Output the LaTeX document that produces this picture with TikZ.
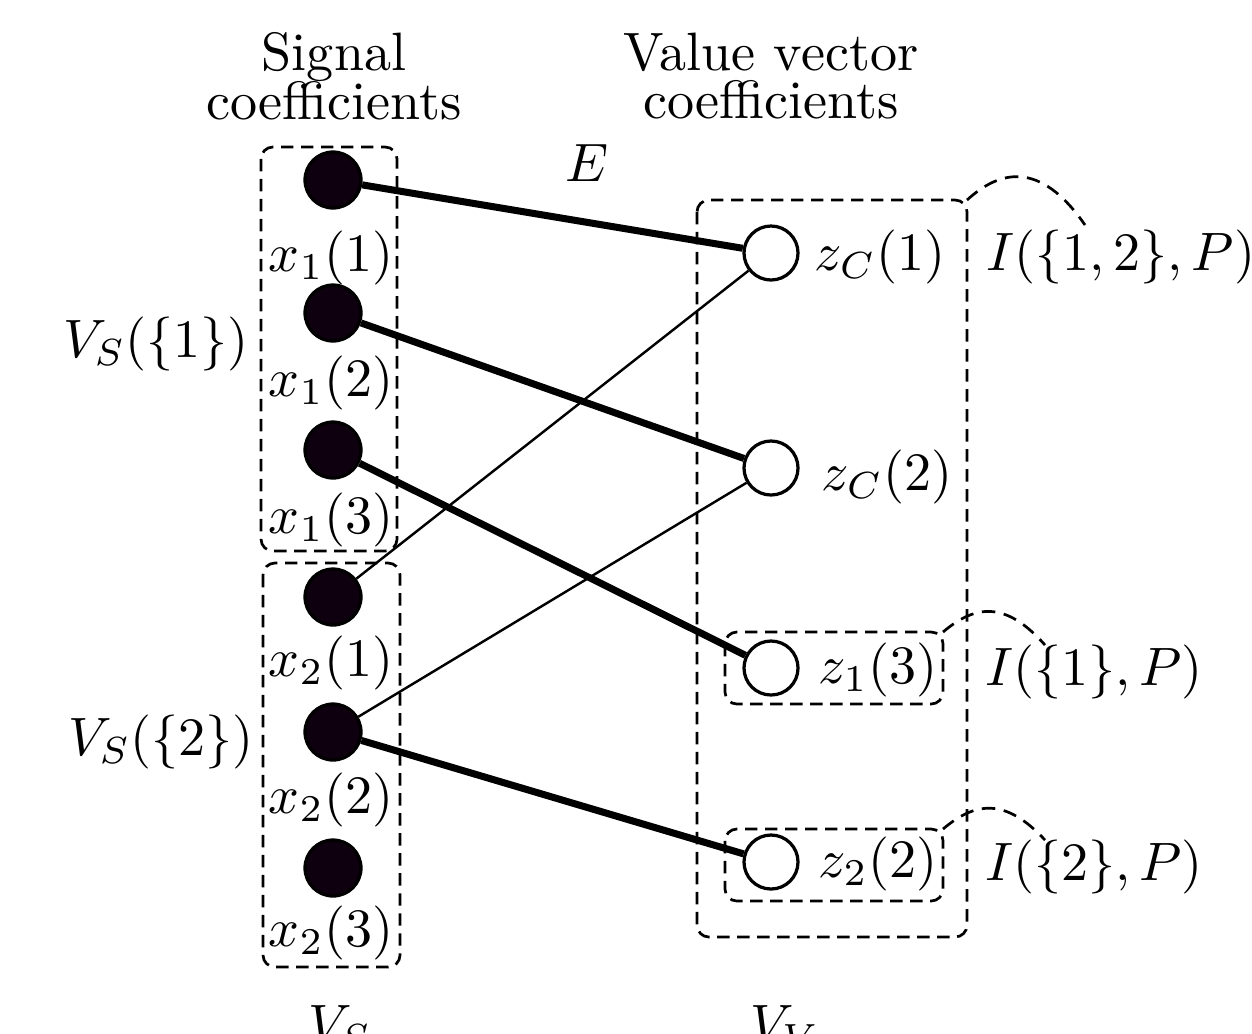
\documentclass[tikz,border=0pt]{standalone}
\usetikzlibrary{positioning}
\definecolor{nodefill}{rgb}{0.06,0.0,0.06}
\begin{document}
\begin{tikzpicture}[x=0.185pt,y=-0.185pt,
  sig/.style={circle,draw=black,line width=0.6pt,fill=nodefill,minimum size=56*0.185pt,inner sep=0pt},
  val/.style={circle,draw=black,line width=0.6pt,fill=white,minimum size=54*0.185pt,inner sep=0pt},
  thickedge/.style={line width=1.3pt},
  thinedge/.style={line width=0.45pt},
  dbox/.style={draw=black,dash pattern=on 2.3pt off 1.4pt,line width=0.5pt,rounded corners=2.2pt},
  dcurve/.style={draw=black,dash pattern=on 2.5pt off 1.6pt,line width=0.5pt},
  lab/.style={inner sep=0pt}]
\useasboundingbox (0,0) rectangle (1252,1033);
% group boxes
\draw[dbox] (261,147) rectangle (397,551);
\draw[dbox] (263,563) rectangle (400,967);
\draw[dbox] (697,200) rectangle (967,937);
\draw[dbox] (725,632) rectangle (943,704);
\draw[dbox] (725,829) rectangle (943,901);
\coordinate (bigc) at (967,200);
\coordinate (onec) at (943,632);
\coordinate (twoc) at (943,829);
% signal nodes
\node[sig] (x11) at (333,180) {};
\node[sig] (x12) at (333,313) {};
\node[sig] (x13) at (333,450) {};
\node[sig] (x21) at (333,597) {};
\node[sig] (x22) at (333,732) {};
\node[sig] (x23) at (333,868) {};
% value nodes
\node[val] (zc1) at (771,253) {};
\node[val] (zc2) at (771,468) {};
\node[val] (z13) at (771,668) {};
\node[val] (z22) at (771,862) {};
% labels
\node[lab] (lx11) at (331,258) {$x_1(1)$};
\node[lab] (lx12) at (331,383) {$x_1(2)$};
\node[lab] (lx13) at (331,520) {$x_1(3)$};
\node[lab] (lx21) at (331,663) {$x_2(1)$};
\node[lab] (lx22) at (331,800) {$x_2(2)$};
\node[lab] (lx23) at (331,933) {$x_2(3)$};
\node[lab] (lzc1) at (880,257) {$z_C(1)$};
\node[lab] (lzc2) at (887,477) {$z_C(2)$};
\node[lab] (lz13) at (878,670) {$z_1(3)$};
\node[lab] (lz22) at (878,864) {$z_2(2)$};
\node[lab,align=center] (tsig) at (334,76) {Signal\\[-3pt]coefficients};
\node[lab,align=center] (tval) at (771,76) {Value vector\\[-3pt]coefficients};
\node[lab] (lE) at (587,163) {$E$};
\node[lab] (lvs1) at (156,344) {$V_S(\{1\})$};
\node[lab] (lvs2) at (161,742) {$V_S(\{2\})$};
\node[lab] (li12) at (1121,257) {$I(\{1,2\},P)$};
\node[lab] (li1) at (1094,672) {$I(\{1\},P)$};
\node[lab] (li2) at (1094,867) {$I(\{2\},P)$};
\node[lab] (lvs) at (340,1028) {$V_S$};
\node[lab] (lvv) at (785,1028) {$V_V$};
% edges
\draw[thickedge] (x11) -- (zc1);
\draw[thickedge] (x12) -- (zc2);
\draw[thickedge] (x13) -- (z13);
\draw[thinedge] (x21) -- (zc1);
\draw[thinedge] (x22) -- (zc2);
\draw[thickedge] (x22) -- (z22);
% curly connectors
\coordinate (e12) at (1085,225);
\coordinate (e1) at (1045,645);
\coordinate (e2) at (1045,840);
\draw[dcurve] (bigc) .. controls (1000,170) and (1040,160) .. (e12);
\draw[dcurve] (onec) .. controls (975,605) and (1005,600) .. (e1);
\draw[dcurve] (twoc) .. controls (975,802) and (1005,797) .. (e2);
\end{tikzpicture}
\end{document}
